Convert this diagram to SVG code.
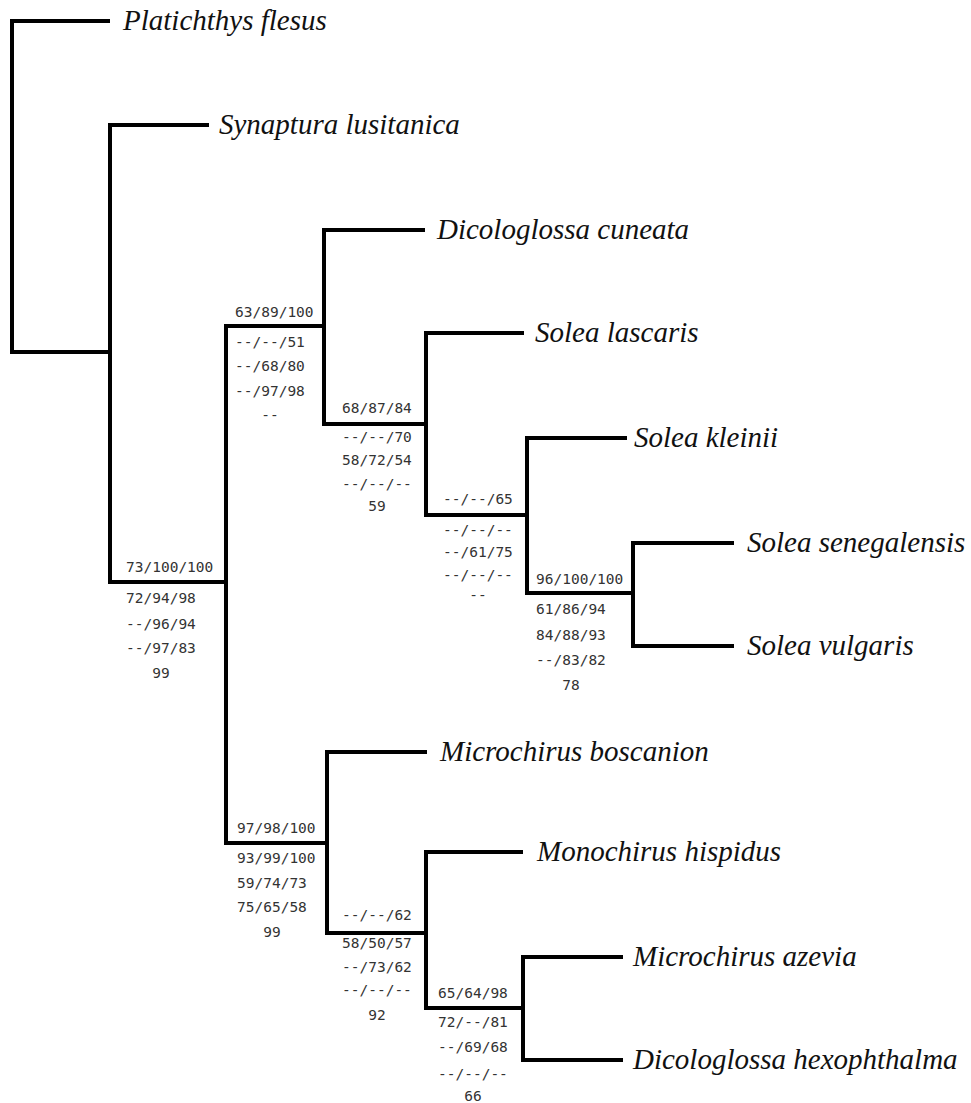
<svg xmlns="http://www.w3.org/2000/svg" width="971" height="1103" viewBox="0 0 971 1103">
<style>
.br{fill:none;stroke:#000;stroke-width:4;stroke-linejoin:miter;stroke-linecap:square}
.tx{font-family:"Liberation Serif","Times New Roman",serif;font-style:italic;font-size:29px;fill:#111}
.sp{font-family:"DejaVu Sans Mono","Liberation Mono",monospace;font-size:14.5px;fill:#333}
.c{text-anchor:middle}
</style>
<rect width="971" height="1103" fill="#fff"/>
<g id="connectors">
<path class="br" d="M108,21 H12 V352 H110"/>
<path class="br" d="M207,125 H110 V582 H226"/>
<path class="br" d="M324,326 H226 V843 H327"/>
<path class="br" d="M423,230 H324 V424 H426"/>
<path class="br" d="M522,333 H426 V515 H527"/>
<path class="br" d="M625,438 H527 V593 H633"/>
<path class="br" d="M732,543 H633 V646 H732"/>
<path class="br" d="M425,752 H327 V933 H426"/>
<path class="br" d="M521,852 H426 V1008 H523"/>
<path class="br" d="M621,957 H523 V1060 H621"/>
</g>
<g id="taxon-platichthys"><text class="tx" x="123" y="30">Platichthys flesus</text></g>
<g id="taxon-synaptura"><text class="tx" x="219" y="134">Synaptura lusitanica</text></g>
<g id="taxon-dicologlossa-cuneata"><text class="tx" x="437" y="239">Dicologlossa cuneata</text></g>
<g id="taxon-solea-lascaris"><text class="tx" x="535" y="342">Solea lascaris</text></g>
<g id="taxon-solea-kleinii"><text class="tx" x="634" y="447">Solea kleinii</text></g>
<g id="taxon-solea-senegalensis"><text class="tx" x="747" y="552">Solea senegalensis</text></g>
<g id="taxon-solea-vulgaris"><text class="tx" x="747" y="655">Solea vulgaris</text></g>
<g id="taxon-microchirus-boscanion"><text class="tx" x="440" y="761">Microchirus boscanion</text></g>
<g id="taxon-monochirus-hispidus"><text class="tx" x="537" y="861">Monochirus hispidus</text></g>
<g id="taxon-microchirus-azevia"><text class="tx" x="633" y="966">Microchirus azevia</text></g>
<g id="taxon-dicologlossa-hexophthalma"><text class="tx" x="633" y="1069">Dicologlossa hexophthalma</text></g>

<g id="support-soleinae-clade" class="sp">
<text x="126" y="572">73/100/100</text>
<text x="126" y="603">72/94/98</text>
<text x="126" y="629">--/96/94</text>
<text x="126" y="653">--/97/83</text>
<text class="c" x="161" y="678">99</text>
</g>
<g id="support-solea-clade" class="sp">
<text x="235" y="317">63/89/100</text>
<text x="235" y="347">--/--/51</text>
<text x="235" y="371">--/68/80</text>
<text x="235" y="396">--/97/98</text>
<text class="c" x="270" y="420">--</text>
</g>
<g id="support-solea-lascaris-node" class="sp">
<text x="342" y="413">68/87/84</text>
<text x="342" y="442">--/--/70</text>
<text x="342" y="465">58/72/54</text>
<text x="342" y="489">--/--/--</text>
<text class="c" x="377" y="511">59</text>
</g>
<g id="support-solea-kleinii-node" class="sp">
<text x="443" y="504">--/--/65</text>
<text x="443" y="535">--/--/--</text>
<text x="443" y="557">--/61/75</text>
<text x="443" y="580">--/--/--</text>
<text class="c" x="478" y="600">--</text>
</g>
<g id="support-solea-senegalensis-vulgaris" class="sp">
<text x="536" y="584">96/100/100</text>
<text x="536" y="614">61/86/94</text>
<text x="536" y="640">84/88/93</text>
<text x="536" y="665">--/83/82</text>
<text class="c" x="571" y="690">78</text>
</g>
<g id="support-microchirus-clade" class="sp">
<text x="237" y="833">97/98/100</text>
<text x="237" y="863">93/99/100</text>
<text x="237" y="888">59/74/73</text>
<text x="237" y="912">75/65/58</text>
<text class="c" x="272" y="937">99</text>
</g>
<g id="support-monochirus-node" class="sp">
<text x="342" y="920">--/--/62</text>
<text x="342" y="948">58/50/57</text>
<text x="342" y="972">--/73/62</text>
<text x="342" y="995">--/--/--</text>
<text class="c" x="377" y="1020">92</text>
</g>
<g id="support-azevia-hexophthalma" class="sp">
<text x="438" y="998">65/64/98</text>
<text x="438" y="1027">72/--/81</text>
<text x="438" y="1052">--/69/68</text>
<text x="438" y="1079">--/--/--</text>
<text class="c" x="473" y="1101">66</text>
</g>
</svg>
